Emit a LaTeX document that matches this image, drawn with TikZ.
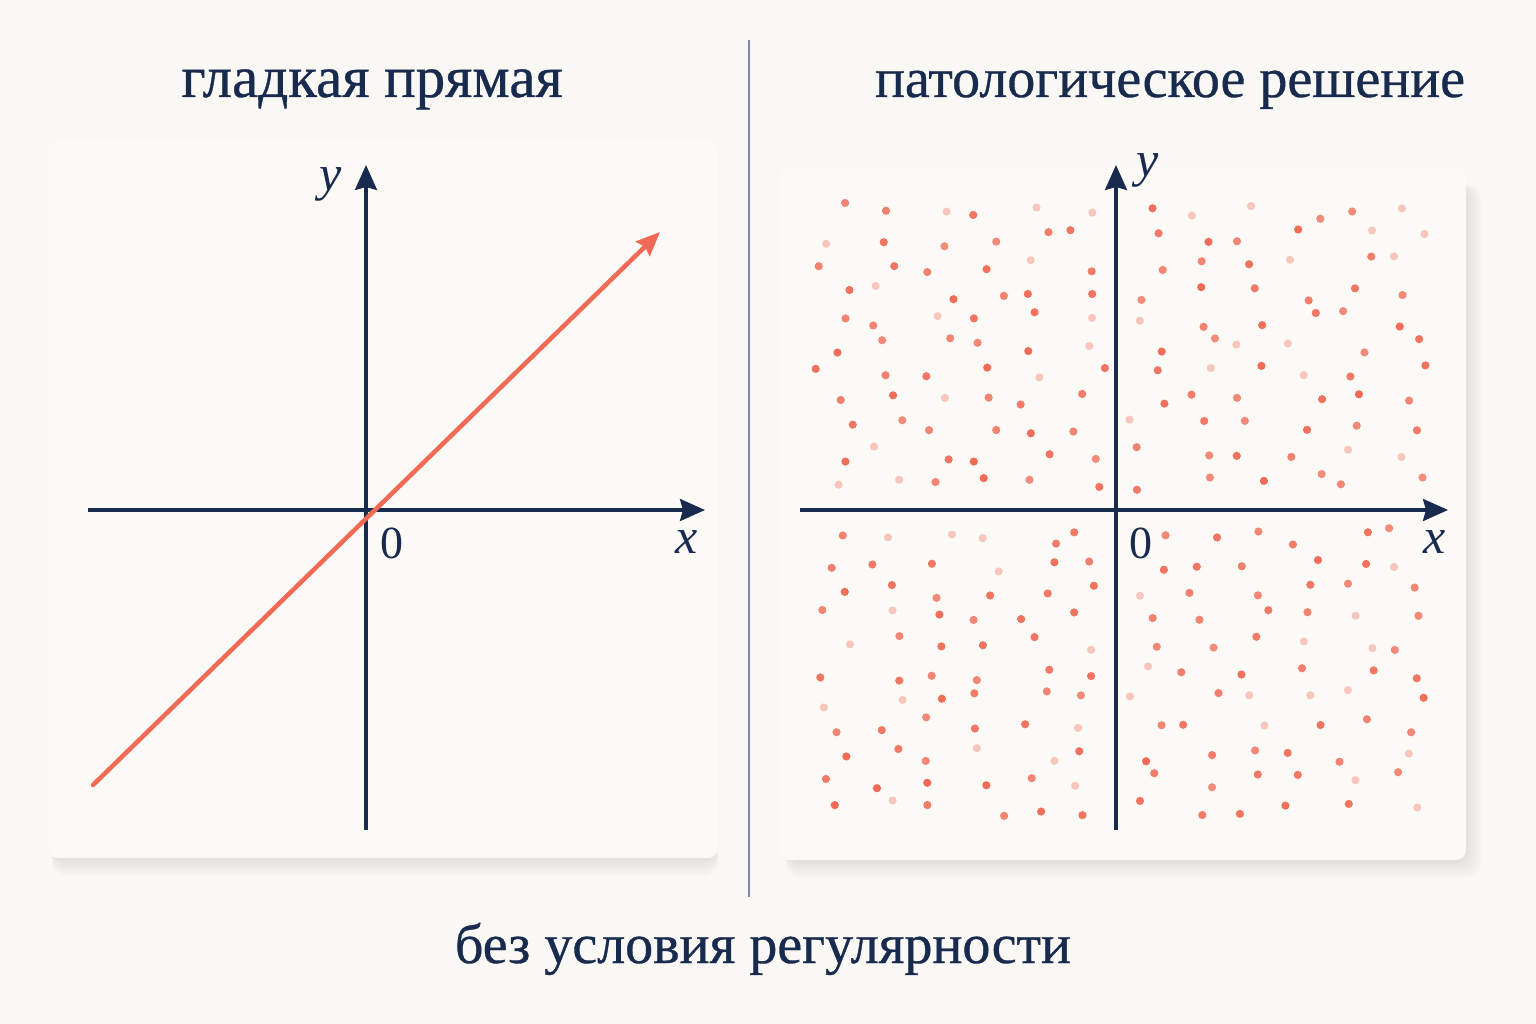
\documentclass[tikz,border=0pt]{standalone}
\usepackage{fontspec}
\setmainfont{Liberation Serif}
\newfontfamily\titlefont[FakeBold=0.6]{Liberation Serif}
\usetikzlibrary{arrows.meta}
\definecolor{bg}{HTML}{FAF8F4}
\definecolor{panelc}{HTML}{FCFAF7}
\definecolor{navy}{HTML}{182B4F}
\definecolor{salmon}{HTML}{F06A55}
\definecolor{divc}{HTML}{7F88A3}
\begin{document}
\begin{tikzpicture}[x=1pt,y=-1pt,
  axis/.style={line width=3.3pt, draw=navy, -{Stealth[length=25pt,width=22pt,inset=3pt]}},
  title/.style={text=navy, font=\titlefont\fontsize{56}{60}\selectfont, anchor=base, inner sep=0pt},
  varlbl/.style={text=navy, font=\fontsize{50}{54}\selectfont\itshape, inner sep=0pt},
  zerolbl/.style={text=navy, font=\fontsize{46}{50}\selectfont, inner sep=0pt},
  panelbox/.style={fill=panelc, rounded corners=10pt},
  dot/.style={fill=salmon}]
\useasboundingbox (0,0) rectangle (1536,1024);
\fill[bg] (0,0) rectangle (1536,1024);
% shadows
\foreach \k in {1,...,12} {
  \fill[black, opacity=0.008, rounded corners=14pt] (52,600) rectangle (716+0.2*\k,858+1.5*\k);
  \fill[black, opacity=0.008, rounded corners=14pt] (786,185) rectangle (1466+1.3*\k,860+1.5*\k);
}
\fill[panelbox] (48,140) rectangle (718,858);
\fill[panelbox] (780,168) rectangle (1466,860);
% divider
\coordinate (dA) at (749,40);
\coordinate (dB) at (749,897);
\draw[divc, line width=1.6pt] (dA) -- (dB);
% titles
\node[title, font=\titlefont\fontsize{59}{62}\selectfont] (t1) at (372,97) {гладкая прямая};
\node[title] (t2) at (1170,97) {патологическое решение};
\node[title] (t3) at (763,963) {без условия регулярности};
% left axes
\coordinate (LxA) at (88,510);
\coordinate (LxB) at (705,510);
\coordinate (LyA) at (366,830);
\coordinate (LyB) at (366,165);
\draw[axis] (LxA) -- (LxB);
\draw[axis] (LyA) -- (LyB);
\node[varlbl] (Ly) at (331,184) {y};
\node[varlbl] (Lx) at (687,542) {x};
\node[zerolbl] (L0) at (392,543) {0};
% red line
\coordinate (Rs) at (93,785);
\coordinate (Re) at (660,232);
\draw[salmon, line width=4.5pt, line cap=round, -{Stealth[length=24pt,width=20pt,inset=3pt]}] (Rs) -- (Re);
% right dots
\pgfmathsetseed{31}
\foreach \qx/\qy/\dx in {834/211/51, 1148/211/52, 834/537/51, 1148/537/52} {
  \foreach \i in {0,...,5} {
    \foreach \j in {0,...,10} {
      \pgfmathsetmacro{\px}{\qx + \i*\dx + 19*rand}
      \pgfmathsetmacro{\py}{\qy + \j*27 + 9*rand}
      \pgfmathsetmacro{\op}{rnd < 0.15 ? 0.35 : 0.75+0.25*rnd}
      \fill[dot, opacity=\op] (\px,\py) circle[radius=4.1pt];
    }
  }
}
% right axes
\coordinate (RxA) at (800,510);
\coordinate (RxB) at (1448,510);
\coordinate (RyA) at (1116,830);
\coordinate (RyB) at (1116,165);
\draw[axis] (RxA) -- (RxB);
\draw[axis] (RyA) -- (RyB);
\node[varlbl] (Ry) at (1148,170) {y};
\node[varlbl] (Rx) at (1435,542) {x};
\node[zerolbl] (R0) at (1141,543) {0};
\end{tikzpicture}
\end{document}
